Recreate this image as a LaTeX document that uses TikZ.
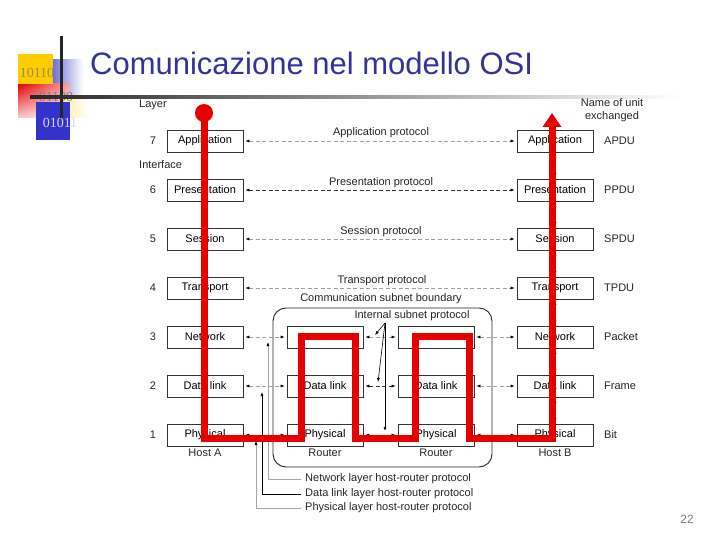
\documentclass[tikz,border=0pt]{standalone}
\usepackage{fontspec}
\setmainfont{Liberation Serif}
\setsansfont{Liberation Sans}
\usetikzlibrary{arrows.meta,shadings}
\definecolor{titleblue}{RGB}{51,51,153}
\definecolor{osired}{RGB}{230,0,0}
\definecolor{logoyellow}{RGB}{255,204,0}
\definecolor{logoblue}{RGB}{51,51,204}
\definecolor{digitolive}{RGB}{150,140,90}

\begin{document}
\begin{tikzpicture}[x=1pt,y=-1pt,font=\sffamily\fontsize{11}{13}\selectfont,
 >={Latex[color=black,length=4pt,width=3pt]},
 box/.style={draw=black!80,line width=.7pt,minimum width=76pt,minimum height=22pt,inner sep=0pt},
 proto/.style={<->,gray!75,line width=.6pt,dash pattern=on 4pt off 2.5pt,shorten <=2pt,shorten >=2pt},
 darkproto/.style={proto,black!80},
 lbl/.style={inner sep=0pt,text=black!85},
 redpath/.style={osired,line width=7pt}]
\fill[white] (0,0) rectangle (720,540);
\useasboundingbox (0,0) rectangle (720,540);
% logo
\shade[left color=logoblue!70,right color=white] (53,60) rectangle (83,97);
\shade[upper left=osired,upper right=osired!35!white,lower left=osired!20!white,lower right=white] (18,84) rectangle (70,118);
\shade[left color=logoyellow!40,right color=white] (62,97) rectangle (88,118);
\fill[logoblue] (36,102) rectangle (70,140);
\fill[logoyellow] (18,54) rectangle (53,84);
\node[font=\rmfamily\fontsize{14}{14}\selectfont,text=digitolive,inner sep=0pt] (d1) at (37,73) {10110};
\node[font=\rmfamily\fontsize{14}{14}\selectfont,text=gray,inner sep=0pt] (d2) at (56,97) {01100};
\node[font=\rmfamily\fontsize{14}{14}\selectfont,text=white!80!logoblue,inner sep=0pt] (d3) at (60,123) {01011};
\fill[black!85] (60,36) rectangle (62.5,118);
\shade[left color=black!85,right color=white] (30,96) rectangle (680,98.4);
\node[anchor=base west,inner sep=0pt,text=titleblue,font=\sffamily\fontsize{31}{36}\selectfont] (title) at (90,75) {Comunicazione nel modello OSI};
% layers
\node[lbl,anchor=west] (layer) at (139,104.5) {Layer};
\node[lbl,anchor=west] (iface) at (139,165) {Interface};
\node[lbl,align=center] (unit) at (612,110) {Name of unit\\exchanged};
\node[lbl] (l7) at (153,141) {7};
\node[lbl] (l6) at (153,190) {6};
\node[lbl] (l5) at (153,239) {5};
\node[lbl] (l4) at (153,288) {4};
\node[lbl] (l3) at (153,337) {3};
\node[lbl] (l2) at (153,386) {2};
\node[lbl] (l1) at (153,435) {1};
\node[draw=black!85,line width=.9pt,rounded corners=13pt,minimum width=219pt,minimum height=159pt] (subnet) at (382.5,387.5) {};
\node[box] (a7) at (205,141) {Application};
\node[box] (a6) at (205,190) {Presentation};
\node[box] (a5) at (205,239) {Session};
\node[box] (a4) at (205,288) {Transport};
\node[box] (a3) at (205,337) {Network};
\node[box] (a2) at (205,386) {Data link};
\node[box] (a1) at (205,435) {Physical};
\node[box] (b7) at (555,141) {Application};
\node[box] (b6) at (555,190) {Presentation};
\node[box] (b5) at (555,239) {Session};
\node[box] (b4) at (555,288) {Transport};
\node[box] (b3) at (555,337) {Network};
\node[box] (b2) at (555,386) {Data link};
\node[box] (b1) at (555,435) {Physical};
\node[box] (r3) at (325,337) {};
\node[box] (r2) at (325,386) {Data link};
\node[box] (r1) at (325,435) {Physical};
\node[box] (s3) at (436,337) {};
\node[box] (s2) at (436,386) {Data link};
\node[box] (s1) at (436,435) {Physical};
\node[lbl] (hosta) at (205,453) {Host A};
\node[lbl] (hostb) at (555,453) {Host B};
\node[lbl] (routera) at (325,453) {Router};
\node[lbl] (routerb) at (436,453) {Router};
\node[lbl,anchor=west] (u7) at (604,141) {APDU};
\node[lbl,anchor=west] (u6) at (604,190) {PPDU};
\node[lbl,anchor=west] (u5) at (604,239) {SPDU};
\node[lbl,anchor=west] (u4) at (604,288) {TPDU};
\node[lbl,anchor=west] (u3) at (604,337) {Packet};
\node[lbl,anchor=west] (u2) at (604,386) {Frame};
\node[lbl,anchor=west] (u1) at (604,435) {Bit};
% protocols
\node[lbl] (ap) at (381,133) {Application protocol};
\node[lbl] (pp) at (381,183) {Presentation protocol};
\node[lbl] (sp) at (381,232) {Session protocol};
\node[lbl] (tp) at (382,281) {Transport protocol};
\node[lbl] (csb) at (381,299) {Communication subnet boundary};
\node[lbl] (isp) at (412,316) {Internal subnet protocol};
\draw[proto] (a7)--(b7);
\draw[darkproto] (a6)--(b6);
\draw[proto] (a5)--(b5);
\draw[proto] (a4)--(b4);
\draw[proto] (a3)--(r3);
\draw[proto] (r3)--(s3);
\draw[proto] (s3)--(b3);
\draw[proto] (a2)--(r2);
\draw[darkproto] (r2)--(s2);
\draw[proto] (s2)--(b2);
\draw[darkproto] (a1)--(r1);
\draw[darkproto] (r1)--(s1);
\draw[darkproto] (s1)--(b1);
\draw[<->,line width=.6pt,shorten <=1.5pt,shorten >=1.5pt] (b7)--(b6);
\draw[<->,line width=.6pt,shorten <=1.5pt,shorten >=1.5pt] (b6)--(b5);
\draw[<->,line width=.6pt,shorten <=1.5pt,shorten >=1.5pt] (b5)--(b4);
\draw[<->,line width=.6pt,shorten <=1.5pt,shorten >=1.5pt] (b4)--(b3);
\draw[<->,line width=.6pt,shorten <=1.5pt,shorten >=1.5pt] (b3)--(b2);
\draw[<->,line width=.6pt,shorten <=1.5pt,shorten >=1.5pt] (b2)--(b1);
\coordinate (ip) at (385,323);
\coordinate (i3) at (375,335);
\coordinate (i2) at (378,382);
\coordinate (i1) at (385,431);
\draw[->,line width=.6pt] (ip)--(i3);
\draw[->,line width=.6pt] (ip)--(i2);
\draw[->,line width=.6pt] (ip)--(i1);
% host-router protocols
\node[lbl,anchor=west] (nhr) at (305,479) {Network layer host-router protocol};
\node[lbl,anchor=west] (dhr) at (305,494) {Data link layer host-router protocol};
\node[lbl,anchor=west] (phr) at (305,508) {Physical layer host-router protocol};
\coordinate (n3) at (268,342);
\coordinate (n2) at (262,392);
\coordinate (n1) at (256,441);
\draw[->,gray!70,line width=.6pt,shorten <=4pt] (nhr.west) -| (n3);
\draw[->,black,line width=.6pt,shorten <=4pt] (dhr.west) -| (n2);
\draw[->,gray!70,line width=.6pt,shorten <=4pt] (phr.west) -| (n1);
% path of the data
\coordinate (start) at (204,113);
\coordinate (finish) at (552,113);
\fill[osired] (start) circle (9pt);
\draw[redpath,-{Triangle[width=18pt,length=14pt]}] (start)--(204,438)--(301,438)--(301,336)--(355,336)--(355,438)--(415,438)--(415,336)--(469,336)--(469,438)--(552,438)--(finish);
\node[text=gray,inner sep=0pt,font=\sffamily\fontsize{12}{12}\selectfont] (page) at (687,519) {22};
\end{tikzpicture}
\end{document}
